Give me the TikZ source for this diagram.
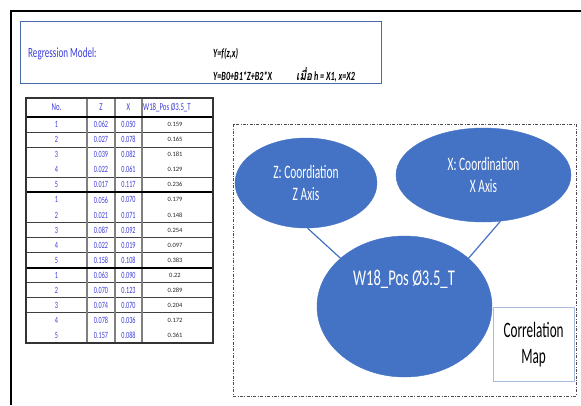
\documentclass[tikz,border=0pt]{standalone}
\usepackage{fontspec}
\setmainfont{Carlito}
\newfontfamily\cf[FakeStretch=0.65]{Carlito}
\newfontfamily\cfn[FakeStretch=0.6]{Carlito}
\newfontfamily\thaifont[Script=Thai,FakeStretch=0.8]{Loma}
\usetikzlibrary{shapes.geometric}
\definecolor{obl}{HTML}{4472C4}
\definecolor{txtblue}{HTML}{3C3CDC}
\definecolor{frameblue}{HTML}{4A6BAA}
\definecolor{mapedge}{HTML}{A9BCDD}
\definecolor{gridgrey}{HTML}{7F7F7F}
\tikzset{
  blob/.style={ellipse, fill=obl, draw=obl, inner sep=0pt, text=white, align=center},
  cellb/.style={inner sep=0pt, text=txtblue, font=\cf\fontsize{9.5}{10}\selectfont},
  cellw/.style={inner sep=0pt, text=black!85, font=\fontsize{6.5}{7.5}\selectfont},
  hdr/.style={inner sep=0pt, text=txtblue, font=\cf\fontsize{10.5}{11}\selectfont},
  eqn/.style={inner sep=0pt, anchor=base west, font=\cf\bfseries\itshape\fontsize{12.5}{14}\selectfont},
  rowline/.style={draw=black!75, line width=1.1pt},
  groupline/.style={draw=black, line width=2pt},
  colline/.style={draw=gridgrey, line width=1.3pt},
  link/.style={draw=obl, line width=1.2pt},
  dashdotbox/.style={draw=black!70, line width=0.9pt, dash pattern=on 3pt off 1.5pt on 0.8pt off 1.5pt}
}
\begin{document}
\begin{tikzpicture}[x=1pt,y=-1pt]
\useasboundingbox (0,0) rectangle (581,405);
\fill[white] (0,0) rectangle (581,405);
% outer frame
\draw[line width=2.5pt] (581,11) -- (11,11) -- (11,405);
% model box
\node[draw=frameblue, line width=1.3pt, minimum width=361pt, minimum height=62pt, inner sep=0pt, anchor=north west] (model) at (19.5,21) {};
\node[inner sep=0pt, anchor=base west, text=txtblue, font=\cf\fontsize{14}{16}\selectfont] (rm) at (28,57) {Regression Model:};
\node[eqn] (eq1) at (213,57) {Y=f(z,x)};
\node[eqn] (eq2) at (213,80) {Y=B0+B1*Z+B2*X};
\node[eqn] (eq3) at (296,80) {{\thaifont\fontsize{12.5}{14}\selectfont เมื่อ} h = X1, x=X2};
% table
\def\ta{26}\def\tb{87}\def\tc{115}\def\td{142}\def\te{213}
\node[hdr] (hno) at (56.5,107.5) {No.};
\node[hdr] (hz) at (101,107.5) {Z};
\node[hdr] (hx) at (128.5,107.5) {X};
\node[hdr, anchor=west] (hw) at (143,107.5) {W18\_Pos Ø3.5\_T};
\foreach \n/\z/\xx/\w [count=\i] in {
  1/0.062/0.050/0.159, 2/0.027/0.078/0.165, 3/0.039/0.082/0.181, 4/0.022/0.061/0.129, 5/0.017/0.117/0.236,
  1/0.056/0.070/0.179, 2/0.021/0.071/0.148, 3/0.087/0.092/0.254, 4/0.022/0.019/0.097, 5/0.158/0.108/0.383,
  1/0.063/0.090/0.22, 2/0.070/0.123/0.289, 3/0.074/0.070/0.204, 4/0.078/0.036/0.172, 5/0.157/0.088/0.361}{
  \node[cellb] (no\i) at (56.5,{117+15.07*(\i-0.5)}) {\n};
  \node[cellb] (z\i) at (101,{117+15.07*(\i-0.5)}) {\z};
  \node[cellb] (x\i) at (128.5,{117+15.07*(\i-0.5)}) {\xx};
  \node[cellw] (w\i) at (175,{117+15.07*(\i-0.5)}) {\w};
}
\foreach \r in {1,2,4,7,8,9,11,12,13}{
  \draw[rowline] (\ta,{117+15.07*\r}) -- (\te,{117+15.07*\r});
}
\foreach \c in {\tb,\tc,\td}{
  \draw[colline] (\c,98) -- (\c,343);
}
\foreach \r in {5,10}{
  \draw[groupline] (\ta,{117+15.07*\r}) -- (\te,{117+15.07*\r});
}
\draw[groupline] (\ta,117) -- (\te,117);
\draw[draw=black!80, line width=1.6pt] (\ta,98) rectangle (\te,343);
% correlation map
\draw[dashdotbox] (233,124) rectangle (576,396);
\node[blob, minimum width=142pt, minimum height=90pt, font=\cfn\fontsize{19}{22}\selectfont] (zc) at (306,183) {Z: Coordiation\\Z Axis};
\node[blob, minimum width=175pt, minimum height=94pt, font=\cfn\fontsize{19}{22}\selectfont] (xc) at (483.5,175) {X: Coordination\\X Axis};
\node[blob, minimum width=175pt, minimum height=141pt] (wc) at (404.5,306.5) {};
\node[inner sep=0pt, text=white, font=\cf\fontsize{22.5}{24}\selectfont] (wt) at (404,279) {W18\_Pos Ø3.5\_T};
\draw[link] (zc.-88) -- (wc.143);
\draw[link] (xc.-70) -- (wc.37);
\node[draw=mapedge, line width=1.2pt, fill=white, minimum width=81pt, minimum height=74pt, inner sep=0pt, anchor=north west, align=center, font=\cfn\fontsize{22}{26}\selectfont] (map) at (492.5,307) {Correlation\\Map};
\end{tikzpicture}
\end{document}
